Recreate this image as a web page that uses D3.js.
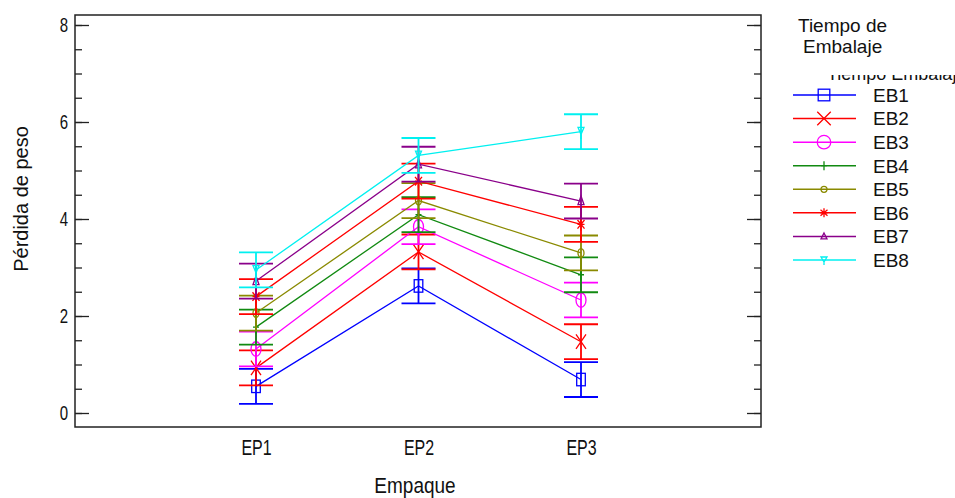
<!DOCTYPE html>
<html>
<head>
<meta charset="utf-8">
<script src="https://cdn.jsdelivr.net/npm/d3@7"></script>
<style>
  body { margin: 0; background: #fff; }
  text { font-family: "Liberation Sans", Arial, sans-serif; fill: #111; }
</style>
</head>
<body>
<div id="chart-area"></div>
<script>
// data
const empaques = ["EP1", "EP2", "EP3"]
const tiempos = ["EB1", "EB2", "EB3", "EB4", "EB5", "EB6", "EB7", "EB8"]
const eb1 = [0.55, 2.62, 0.69]
const eb2 = [0.93, 3.32, 1.47]
const eb3 = [1.32, 3.84, 2.33]
const eb4 = [1.77, 4.09, 2.85]
const eb5 = [2.06, 4.38, 3.30]
const eb6 = [2.40, 4.78, 3.89]
const eb7 = [2.72, 5.13, 4.37]
const eb8 = [2.95, 5.31, 5.80]
const halfInterval = 0.36
const yTicks = [0, 2, 4, 6, 8]
const yMinor = d3.range(0, 8.01, 0.5)

const series = [eb1, eb2, eb3, eb4, eb5, eb6, eb7, eb8]
const colors = ["#0000ff", "#ff0000", "#ff00ff", "#118a11", "#8a8a00", "#ff0000", "#8a008a", "#00f0f0"]
const shapes = ["square", "cross", "circle", "plus", "dot", "star", "tri", "tridown"]

const w = 955, h = 498
const frameL = 75, frameT = 15, frameR = 761, frameB = 427

const svg = d3.select("#chart-area")
  .append("svg")
  .attr("width", w)
  .attr("height", h)

const x = d3.scalePoint()
  .domain(empaques)
  .range([256, 581])

const y = d3.scaleLinear()
  .domain([0, 8])
  .range([413, 25])

// marker drawing, plot markers look stretched vertically
function marker(g, shape, color, cx, cy, big) {
  const k = big ? 1 : 1.45
  const s = big ? 1.35 : 1
  const m = g.append("g").attr("transform", `translate(${cx},${cy})`)
    .attr("stroke", color).attr("fill", "none").attr("stroke-width", 1.3)
  if (shape == "square") {
    m.append("rect").attr("x", -4.3 * s).attr("y", -4.3 * s * k).attr("width", 8.6 * s).attr("height", 8.6 * s * k)
  } else if (shape == "cross") {
    m.append("path").attr("d", `M${-5*s},${-5*s*k}L${5*s},${5*s*k}M${-5*s},${5*s*k}L${5*s},${-5*s*k}`)
  } else if (shape == "circle") {
    m.append("ellipse").attr("rx", 5 * s).attr("ry", 5 * s * k)
  } else if (shape == "plus") {
    m.append("path").attr("d", `M0,${-4.5*k}L0,${4.5*k}M-3,0L3,0`)
  } else if (shape == "dot") {
    m.append("ellipse").attr("rx", 3).attr("ry", 3 * k)
  } else if (shape == "star") {
    m.append("path").attr("d", `M0,${-4.5*k}L0,${4.5*k}M-3.5,${-3*k}L3.5,${3*k}M-3.5,${3*k}L3.5,${-3*k}M-3.5,0L3.5,0`)
  } else if (shape == "tri") {
    m.append("path").attr("d", `M0,${-3.5*k}L3,${2.5*k}L-3,${2.5*k}Z`)
  } else if (shape == "tridown") {
    m.append("path").attr("d", `M-3,${-3*k}L3,${-3*k}L0,${2*k}ZM0,${2*k}L0,${5*k}`)
  }
}

// ticks on the inside of the frame
svg.append("g")
  .attr("transform", `translate(${frameL},0)`)
  .call(d3.axisRight(y).tickValues(yMinor).tickSize(7).tickFormat(""))
  .call(g => g.select(".domain").remove())
svg.append("g")
  .attr("transform", `translate(${frameL},0)`)
  .call(d3.axisRight(y).tickValues(yTicks).tickSize(14).tickFormat(""))
  .call(g => g.select(".domain").remove())
svg.append("g")
  .attr("transform", `translate(${frameR},0)`)
  .call(d3.axisLeft(y).tickValues(yMinor).tickSize(7).tickFormat(""))
  .call(g => g.select(".domain").remove())
svg.append("g")
  .attr("transform", `translate(${frameR},0)`)
  .call(d3.axisLeft(y).tickValues(yTicks).tickSize(14).tickFormat(""))
  .call(g => g.select(".domain").remove())
svg.selectAll(".tick line").attr("stroke", "#222").attr("stroke-width", 1.3)

// tick labels
svg.append("g")
  .attr("transform", `translate(${frameL},0)`)
  .call(d3.axisLeft(y).tickValues(yTicks).tickSize(0).tickPadding(7).tickFormat(d3.format("d")))
  .call(g => g.select(".domain").remove())
  .selectAll("text")
  .attr("font-size", 15)
  .attr("font-family", null)
  .attr("fill", "#111")
  .attr("transform", "scale(1,1.35)")

svg.append("g")
  .attr("transform", `translate(0,${frameB})`)
  .call(d3.axisBottom(x).tickSize(0))
  .call(g => g.select(".domain").remove())
  .selectAll("text")
  .attr("font-size", 16)
  .attr("font-family", null)
  .attr("fill", "#111")
  .attr("y", 0).attr("dy", 0)
  .attr("transform", "translate(0,28) scale(1,1.4)")

// frame
svg.append("rect")
  .attr("x", frameL).attr("y", frameT)
  .attr("width", frameR - frameL).attr("height", frameB - frameT)
  .attr("fill", "none").attr("stroke", "#222").attr("stroke-width", 1.5)

// axis titles
svg.append("text")
  .attr("transform", "translate(28,199) rotate(-90)")
  .attr("text-anchor", "middle")
  .attr("font-size", 20)
  .text("Pérdida de peso")

svg.append("text")
  .attr("transform", "translate(415,493) scale(1,1.2)")
  .attr("text-anchor", "middle")
  .attr("font-size", 19)
  .text("Empaque")

// lines, error bars, markers
const plot = svg.append("g")
series.forEach((vals, i) => {
  const col = colors[i]
  plot.append("path")
    .datum(vals)
    .attr("fill", "none")
    .attr("stroke", col)
    .attr("stroke-width", 1.3)
    .attr("d", d3.line().x((d, j) => x(empaques[j])).y(d => y(d)))
  vals.forEach((v, j) => {
    const cx = x(empaques[j])
    plot.append("path")
      .attr("fill", "none")
      .attr("stroke", col)
      .attr("stroke-width", 1.8)
      .attr("d", `M${cx},${y(v - halfInterval)}L${cx},${y(v + halfInterval)}` +
        `M${cx - 17},${y(v - halfInterval)}L${cx + 17},${y(v - halfInterval)}` +
        `M${cx - 17},${y(v + halfInterval)}L${cx + 17},${y(v + halfInterval)}`)
    marker(plot, shapes[i], col, cx, y(v), false)
  })
})

// legend
svg.append("text").attr("x", 798).attr("y", 32).attr("font-size", 19)
  .text("Tiempo de")
svg.append("text").attr("x", 803).attr("y", 53).attr("font-size", 19)
  .text("Embalaje")

// half hidden duplicate title, as in the original
svg.append("clipPath").attr("id", "cut")
  .append("rect").attr("x", 790).attr("y", 75).attr("width", 165).attr("height", 20)
svg.append("text").attr("x", 827).attr("y", 80).attr("font-size", 18)
  .attr("clip-path", "url(#cut)")
  .text("Tiempo Embalaje")

const ly = d3.scalePoint().domain(tiempos).range([95, 260])
const legend = svg.append("g")
tiempos.forEach((t, i) => {
  const yy = ly(t)
  legend.append("line")
    .attr("x1", 793).attr("x2", 856)
    .attr("y1", yy).attr("y2", yy)
    .attr("stroke", colors[i]).attr("stroke-width", 1.5)
  marker(legend, shapes[i], colors[i], 824, yy, true)
  legend.append("text")
    .attr("x", 873).attr("y", yy)
    .attr("dy", "0.36em")
    .attr("font-size", 19)
    .text(t)
})
</script>
</body>
</html>
